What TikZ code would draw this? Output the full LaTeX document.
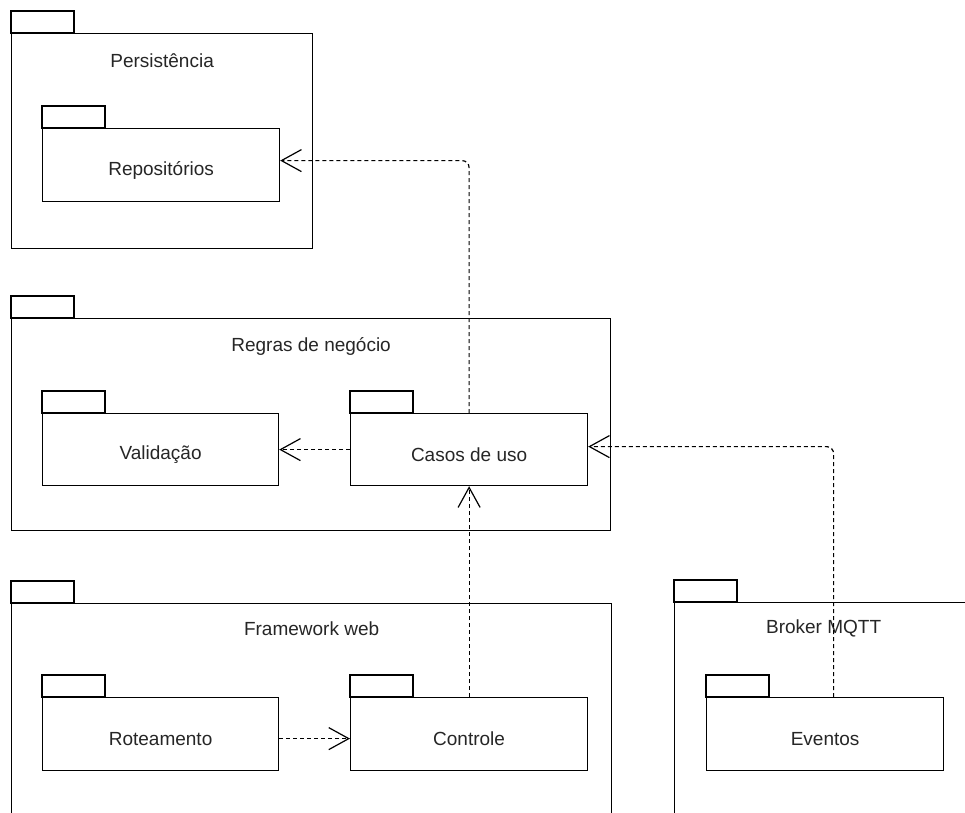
\documentclass[tikz,border=0pt]{standalone}
\usepackage{fontspec}
\setsansfont{Liberation Sans}
\usepackage{tikz}
\usetikzlibrary{positioning, arrows.meta}

\begin{document}
\begin{tikzpicture}[
    x=1pt, y=-1pt,
    every node/.style={font=\sffamily\fontsize{19}{23}\selectfont, text=black!85},
    pkg/.style={rectangle, draw, line width=1.2pt, anchor=north west, inner sep=0pt, fill=white},
    tab/.style={rectangle, draw, line width=1.2pt, anchor=south west, inner sep=0pt, outer sep=0pt, minimum width=63pt, minimum height=22pt},
    lbl/.style={anchor=center, inner sep=0pt},
    dep/.style={-{Straight Barb[length=20pt, width=22pt, line width=1.2pt]}, line width=1.2pt, dash pattern=on 4pt off 3pt, rounded corners=7pt},
]
    \clip (0,0) rectangle (965,812);

    % Persistencia
    \node[pkg, minimum width=301pt, minimum height=215pt] (persist) at (11,33) {};
    \node[tab] (persisttab) at (persist.north west) {};
    \node[lbl] (persistlbl) at ([yshift=-28pt]persist.north) {Persistência};
    \node[pkg, minimum width=237pt, minimum height=73pt] (repo) at (42,128) {};
    \node[tab] (repotab) at (repo.north west) {};
    \node[lbl] (repolbl) at ([yshift=-42pt]repo.north) {Repositórios};

    % Regras de negocio
    \node[pkg, minimum width=599pt, minimum height=212pt] (regras) at (11,318) {};
    \node[tab] (regrastab) at (regras.north west) {};
    \node[lbl] (regraslbl) at ([yshift=-28pt]regras.north) {Regras de negócio};
    \node[pkg, minimum width=236pt, minimum height=72pt] (valid) at (42,413) {};
    \node[tab] (validtab) at (valid.north west) {};
    \node[lbl] (validlbl) at ([yshift=-42pt]valid.north) {Validação};
    \node[pkg, minimum width=237pt, minimum height=72pt] (casos) at (350,413) {};
    \node[tab] (casostab) at (casos.north west) {};
    \node[lbl] (casoslbl) at ([yshift=-42pt]casos.north) {Casos de uso};

    % Framework web
    \node[pkg, minimum width=600pt, minimum height=240pt] (web) at (11,603) {};
    \node[tab] (webtab) at (web.north west) {};
    \node[lbl] (weblbl) at ([yshift=-26pt]web.north) {Framework web};
    \node[pkg, minimum width=236pt, minimum height=73pt] (rotea) at (42,697) {};
    \node[tab] (roteatab) at (rotea.north west) {};
    \node[lbl] (rotealbl) at ([yshift=-42pt]rotea.north) {Roteamento};
    \node[pkg, minimum width=237pt, minimum height=73pt] (ctrl) at (350,697) {};
    \node[tab] (ctrltab) at (ctrl.north west) {};
    \node[lbl] (ctrllbl) at ([yshift=-42pt]ctrl.north) {Controle};

    % Broker MQTT
    \node[pkg, minimum width=298pt, minimum height=240pt] (broker) at (674,602) {};
    \node[tab] (brokertab) at (broker.north west) {};
    \node[lbl] (brokerlbl) at ([yshift=-26pt]broker.north) {Broker MQTT};
    \node[pkg, minimum width=237pt, minimum height=73pt] (eventos) at (706,697) {};
    \node[tab] (eventostab) at (eventos.north west) {};
    \node[lbl] (eventoslbl) at ([yshift=-42pt]eventos.north) {Eventos};

    % dependencias
    \draw[dep] (casos.north) |- ([yshift=4.5pt]repo.east);
    \draw[dep] (casos.west) -- (valid.east);
    \draw[dep] (ctrl.north) -- (casos.south);
    \draw[dep] ([xshift=8.5pt]eventos.north) |- ([yshift=3pt]casos.east);
    \draw[dep] ([yshift=-4.5pt]rotea.east) -- ([yshift=-4.5pt]ctrl.west);
\end{tikzpicture}
\end{document}
